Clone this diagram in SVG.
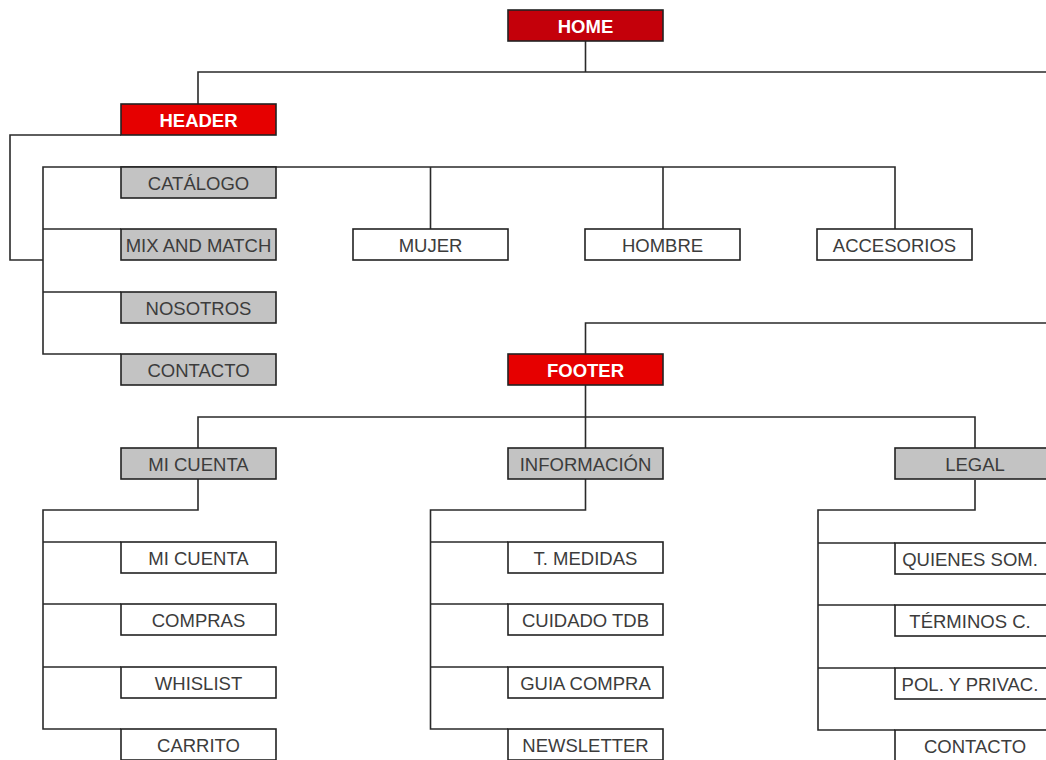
<svg xmlns="http://www.w3.org/2000/svg" width="1046" height="760" viewBox="0 0 1046 760">
<style>
.box rect{stroke:#222;stroke-width:1.6}
.box text{font-family:"Liberation Sans",Arial,sans-serif;font-size:18.5px;text-anchor:middle;fill:#3c3c3c}
.red rect{fill:#e60000}
.dark rect{fill:#c4000a}
.red text,.dark text{fill:#fff;font-weight:bold}
.gray rect{fill:#c3c3c3}
.white rect{fill:#fff}
#connectors path{fill:none;stroke:#2a2a2a;stroke-width:1.6}
</style>
<rect width="1046" height="760" fill="#fff"/>
<g id="connectors">
<path d="M585.5 41V72"/>
<path d="M198 104V72H1050V323H585.5V354"/>
<path d="M121 135H10V260H43"/>
<path d="M895 229V167H43V354H121"/>
<path d="M430.5 167V229M663 167V229M43 229H121M43 292H121"/>
<path d="M585.5 385V448M198 448V417H975V448"/>
<path d="M198 479V510H43V729H121M43 542H121M43 604H121M43 667H121"/>
<path d="M585.5 479V510H430.5V729H508M430.5 542H508M430.5 604H508M430.5 667H508"/>
<path d="M975 480V510H818V730H895M818 543H895M818 605H895M818 668H895"/>
</g>
<g id="home" class="box dark"><rect x="508" y="10" width="155" height="31"/><text x="585.5" y="33">HOME</text></g>
<g id="header" class="box red"><rect x="121" y="104" width="155" height="31"/><text x="198.5" y="127">HEADER</text></g>
<g id="catalogo" class="box gray"><rect x="121" y="167" width="155" height="31"/><text x="198.5" y="190">CATÁLOGO</text></g>
<g id="mixandmatch" class="box gray"><rect x="121" y="229" width="155" height="31"/><text x="198.5" y="252">MIX AND MATCH</text></g>
<g id="nosotros" class="box gray"><rect x="121" y="292" width="155" height="31"/><text x="198.5" y="315">NOSOTROS</text></g>
<g id="contacto-h" class="box gray"><rect x="121" y="354" width="155" height="31"/><text x="198.5" y="377">CONTACTO</text></g>
<g id="mujer" class="box white"><rect x="353" y="229" width="155" height="31"/><text x="430.5" y="252">MUJER</text></g>
<g id="hombre" class="box white"><rect x="585" y="229" width="155" height="31"/><text x="662.5" y="252">HOMBRE</text></g>
<g id="accesorios" class="box white"><rect x="817" y="229" width="155" height="31"/><text x="894.5" y="252">ACCESORIOS</text></g>
<g id="footer" class="box red"><rect x="508" y="354" width="155" height="31"/><text x="585.5" y="377">FOOTER</text></g>
<g id="micuenta" class="box gray"><rect x="121" y="448" width="155" height="31"/><text x="198.5" y="471">MI CUENTA</text></g>
<g id="informacion" class="box gray"><rect x="508" y="448" width="155" height="31"/><text x="585.5" y="471">INFORMACIÓN</text></g>
<g id="legal" class="box gray"><rect x="895" y="448" width="160" height="31"/><text x="975" y="471">LEGAL</text></g>
<g id="mc-micuenta" class="box white"><rect x="121" y="542" width="155" height="31"/><text x="198.5" y="565">MI CUENTA</text></g>
<g id="mc-compras" class="box white"><rect x="121" y="604" width="155" height="31"/><text x="198.5" y="627">COMPRAS</text></g>
<g id="mc-whislist" class="box white"><rect x="121" y="667" width="155" height="31"/><text x="198.5" y="690">WHISLIST</text></g>
<g id="mc-carrito" class="box white"><rect x="121" y="729" width="155" height="31"/><text x="198.5" y="752">CARRITO</text></g>
<g id="in-medidas" class="box white"><rect x="508" y="542" width="155" height="31"/><text x="585.5" y="565">T. MEDIDAS</text></g>
<g id="in-cuidado" class="box white"><rect x="508" y="604" width="155" height="31"/><text x="585.5" y="627">CUIDADO TDB</text></g>
<g id="in-guia" class="box white"><rect x="508" y="667" width="155" height="31"/><text x="585.5" y="690">GUIA COMPRA</text></g>
<g id="in-newsletter" class="box white"><rect x="508" y="729" width="155" height="31"/><text x="585.5" y="752">NEWSLETTER</text></g>
<g id="lg-quienes" class="box white"><rect x="895" y="543" width="160" height="31"/><text x="970" y="566">QUIENES SOM.</text></g>
<g id="lg-terminos" class="box white"><rect x="895" y="605" width="160" height="31"/><text x="970" y="628">TÉRMINOS C.</text></g>
<g id="lg-pol" class="box white"><rect x="895" y="668" width="160" height="31"/><text x="970" y="691">POL. Y PRIVAC.</text></g>
<g id="lg-contacto" class="box white"><rect x="895" y="730" width="160" height="31"/><text x="975" y="753">CONTACTO</text></g>
</svg>
